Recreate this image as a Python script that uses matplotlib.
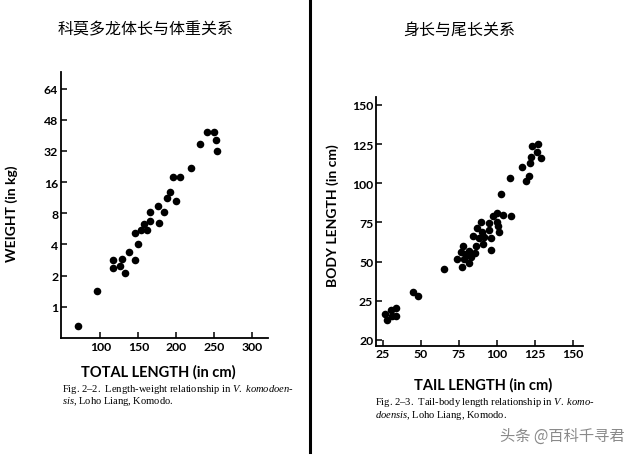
import numpy as np
import matplotlib
matplotlib.use('Agg')
import matplotlib.pyplot as plt
from matplotlib.lines import Line2D

plt.rcParams['font.family'] = ['Lato', 'DejaVu Sans']
plt.rcParams['mathtext.fontset'] = 'custom'
plt.rcParams['mathtext.rm'] = 'Liberation Serif'
plt.rcParams['mathtext.it'] = 'Liberation Serif:italic'

# Fig 2-2: total length (cm) vs weight (kg)
total_len = [70, 96, 116, 117, 126, 128, 133, 138, 146, 146, 150, 153, 158, 162, 165,
             166, 176, 177, 184, 188, 192, 196, 200, 205, 220, 232, 241, 250, 253, 254]
weight = [0.66, 1.42, 2.86, 2.38, 2.5, 2.9, 2.14, 3.4, 2.82, 5.17, 4.06, 5.5, 6.27, 5.5, 8.2,
          6.7, 9.4, 6.5, 8.2, 11.3, 12.9, 18.1, 10.6, 18.1, 22, 35.8, 41.6, 41.6, 37.6, 32]
w_ticks = [1, 2, 4, 8, 16, 32, 48, 64]
tl_ticks = [100, 150, 200, 250, 300]

# Fig 2-3: tail length (cm) vs body length (cm)
tail_len = [26.7, 27.8, 30.2, 30.9, 34, 34, 44.7, 48.2, 65, 73.5, 76.6, 76.8, 77.9, 78.3,
            79.4, 81.4, 81.6, 82.9, 84.2, 85.3, 86.4, 86.8, 87.9, 89.7, 90.1, 90.8, 91.7,
            94.5, 94.7, 95.8, 96, 97.1, 100, 100.2, 100.6, 101.3, 102.6, 103.7, 108.7,
            109.2, 116.1, 118.8, 121, 121.4, 122.1, 122.9, 126.2, 127.1, 128.6]
body_len = [23.3, 22.5, 23.8, 23.0, 24.1, 23.0, 30.5, 28, 45, 51.7, 56, 46.6, 59.8, 51.3,
            54.5, 56.4, 49, 53, 66, 55.6, 60.2, 71.7, 64.9, 75.5, 68.7, 61.3, 65.7,
            74.4, 69.8, 64.9, 57.5, 79.3, 81, 75.5, 72.5, 68.7, 93.3, 79.8, 103.1,
            79.3, 110.1, 101.2, 104.4, 113.1, 116.5, 123.5, 120.1, 125, 115.8]
bl_ticks = [20, 25, 50, 75, 100, 125, 150]
tail_ticks = [25, 50, 75, 100, 125, 150]


# the printed axes are not uniform: 32->48->64 equally spaced, 20->25 same step as 25->50
def w_fwd(v):
    v = np.asarray(v, dtype=float)
    return np.where(v <= 32, np.log2(np.maximum(v, 1e-6)), 5 + (v - 32) / 16)


def w_inv(f):
    f = np.asarray(f, dtype=float)
    return np.where(f <= 5, 2.0 ** np.minimum(f, 5), 32 + 16 * (f - 5))


def b_fwd(v):
    v = np.asarray(v, dtype=float)
    return np.where(v >= 25, v / 25, 1 - (25 - v) / 5)


def b_inv(f):
    f = np.asarray(f, dtype=float)
    return np.where(f >= 1, 25 * f, 25 - 5 * (1 - f))


fig = plt.figure(figsize=(6.4, 4.56), dpi=100)


def style(ax):
    for s in ['top', 'right']:
        ax.spines[s].set_visible(False)
    for s in ['left', 'bottom']:
        ax.spines[s].set_linewidth(1.3)
    ax.tick_params(direction='in', length=4, width=1.1, labelsize=8.8, pad=2)
    for lab in ax.get_xticklabels() + ax.get_yticklabels():
        lab.set_fontweight('bold')


ax1 = fig.add_axes([0.0953, 0.2566, 0.3234, 0.5833])
ax1.set_yscale('function', functions=(w_fwd, w_inv))
ax1.scatter(total_len, weight, s=30, color='black', linewidths=0)
ax1.set_xlim(48, 321)
ax1.set_ylim(0.5, 72.5)
ax1.set_yticks(w_ticks)
ax1.set_yticklabels([str(t) for t in w_ticks])
ax1.yaxis.set_minor_locator(matplotlib.ticker.NullLocator())
ax1.set_xticks(tl_ticks)
style(ax1)

ax2 = fig.add_axes([0.5875, 0.2397, 0.3234, 0.5453])
ax2.set_yscale('function', functions=(b_fwd, b_inv))
ax2.scatter(tail_len, body_len, s=30, color='black', linewidths=0)
ax2.set_xlim(20.6, 156.4)
ax2.set_ylim(19.25, 155)
ax2.set_yticks(bl_ticks)
ax2.set_yticklabels([str(t) for t in bl_ticks])
ax2.yaxis.set_minor_locator(matplotlib.ticker.NullLocator())
ax2.set_xticks(tail_ticks)
style(ax2)

# axis labels
fig.text(12 / 640, 1 - 214 / 456, 'WEIGHT (in kg)', rotation=90, ha='center', va='center',
         fontsize=10, fontweight='bold')
fig.text(158 / 640, 1 - 372 / 456, 'TOTAL LENGTH (in cm)', ha='center', va='center',
         fontsize=10.5, fontweight='bold')
fig.text(333 / 640, 1 - 216 / 456, 'BODY LENGTH (in cm)', rotation=90, ha='center', va='center',
         fontsize=10, fontweight='bold')
fig.text(483 / 640, 1 - 385 / 456, 'TAIL LENGTH (in cm)', ha='center', va='center',
         fontsize=10.5, fontweight='bold')

# captions
cap = dict(fontsize=7.6, family='Liberation Serif', ha='left', va='center')
fig.text(62 / 640, 1 - 390 / 456, r'Fig. 2–2.  Length-weight relationship in $\mathit{V.\ komodoen}$-', **cap)
fig.text(62 / 640, 1 - 402 / 456, r'$\mathit{sis}$, Loho Liang, Komodo.', **cap)
fig.text(375 / 640, 1 - 403 / 456, r'Fig. 2–3.  Tail-body length relationship in $\mathit{V.\ komo}$-', **cap)
fig.text(375 / 640, 1 - 416 / 456, r'$\mathit{doensis}$, Loho Liang, Komodo.', **cap)

# titles, divider, watermark
fig.text(146 / 640, 1 - 30 / 456, '科莫多龙体长与体重关系', ha='center', va='center',
         fontsize=11.5, family=['Noto Sans CJK SC', 'DejaVu Sans'])
fig.text(459 / 640, 1 - 30 / 456, '身长与尾长关系', ha='center', va='center',
         fontsize=11.5, family=['Noto Sans CJK SC', 'DejaVu Sans'])
fig.add_artist(Line2D([310 / 640, 310 / 640], [0.006, 1], color='black', lw=2.2))
fig.text(625 / 640, 1 - 436 / 456, '头条 @百科千寻君', ha='right', va='center', color='#8a8a8a',
         fontsize=11, family=['Noto Sans CJK SC', 'DejaVu Sans'])

fig.savefig('out.png', dpi=100)
